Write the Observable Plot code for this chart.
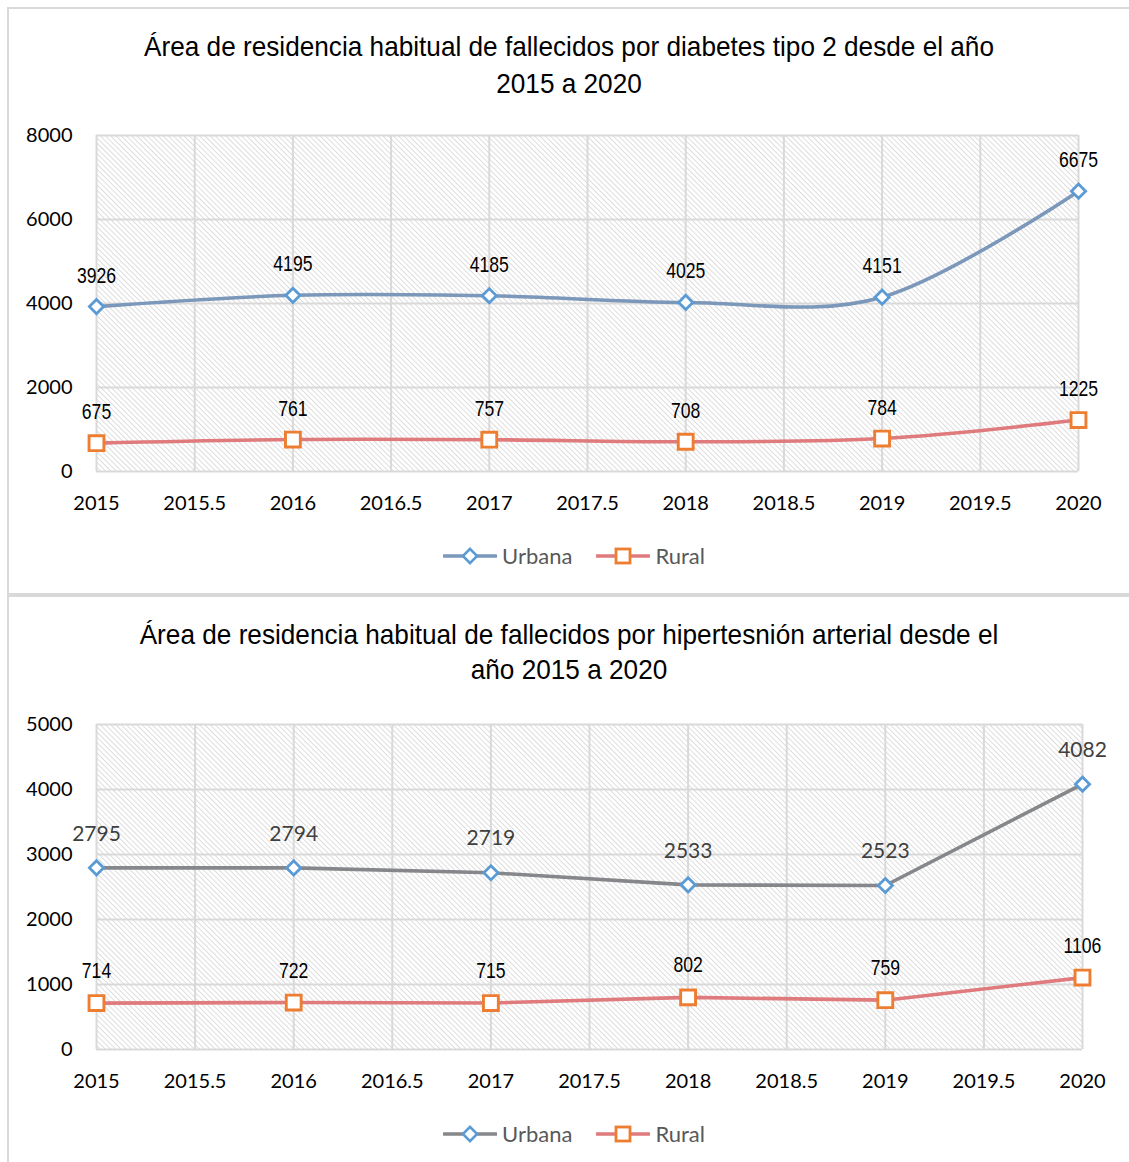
<!DOCTYPE html>
<html lang="es">
<head>
<meta charset="utf-8">
<script src="https://cdn.jsdelivr.net/npm/d3@7"></script>
<script src="https://cdn.jsdelivr.net/npm/@observablehq/plot@0.6"></script>
<style>
  html, body { margin: 0; padding: 0; background: #fff; }
  body { position: relative; width: 1129px; height: 1162px; overflow: hidden; }
  .panel { position: absolute; left: 7px; width: 1140px; border: 2px solid #d9d9d9; box-sizing: border-box; }
  .title { position: absolute; left: 8px; width: 1122px; text-align: center;
           font-family: "Liberation Sans Narrow", "Arial Narrow", "Liberation Sans", sans-serif; font-size: 28px; color: #000;
           transform: scaleX(0.935); transform-origin: 561px 0; }
  .chart { position: absolute; left: 0; }
  .legend { position: absolute; left: 0; width: 1148px; display: flex; justify-content: center; align-items: center;
            font-family: Lato, "Open Sans", sans-serif; font-size: 22px; color: #595959; }
  .legend .item { display: flex; align-items: center; margin: 0 12px; }
  .legend svg { margin-right: 5px; }
</style>
</head>
<body>
<div class="panel" style="top:7px;height:588px"></div>
<div class="panel" style="top:595px;height:600px"></div>

<div class="title" style="top:28px;line-height:37px">Área de residencia habitual de fallecidos por diabetes tipo 2 desde el año<br>2015 a 2020</div>
<div class="chart" id="chart1" style="top:120px"></div>
<div class="legend" id="legend1" style="top:542px"></div>

<div class="title" style="top:617px;line-height:35px">Área de residencia habitual de fallecidos por hipertesnión arterial desde el<br>año 2015 a 2020</div>
<div class="chart" id="chart2" style="top:709px"></div>
<div class="legend" id="legend2" style="top:1120px"></div>

<script>
// Años y defunciones por área de residencia
const years = [2015, 2016, 2017, 2018, 2019, 2020];
const diabetesUrbana = [3926, 4195, 4185, 4025, 4151, 6675];
const diabetesRural = [675, 761, 757, 708, 784, 1225];
const hipertensionUrbana = [2795, 2794, 2719, 2533, 2523, 4082];
const hipertensionRural = [714, 722, 715, 802, 759, 1106];

// Marcas de los ejes
const xTicks = [2015, 2015.5, 2016, 2016.5, 2017, 2017.5, 2018, 2018.5, 2019, 2019.5, 2020];
const yTicksDiabetes = [0, 2000, 4000, 6000, 8000];
const yTicksHipertension = [0, 1000, 2000, 3000, 4000, 5000];

const NARROW = '"Liberation Sans Narrow", "Arial Narrow", "Liberation Sans", sans-serif';
const SANS = 'Lato, "Open Sans", sans-serif';
const BLUE_MARK = "#5b9bd5";
const ORANGE_MARK = "#ed7d31";
const RURAL_LINE = "#df7a7d";
const GRID = "#d9d9d9";

const rows = (vals) => years.map((year, i) => ({year, value: vals[i]}));

// squeeze the data labels horizontally to get a condensed face
function condense(svg, factor) {
  svg.querySelectorAll('g[font-family*="Narrow"] text').forEach(t => {
    const tr = t.getAttribute("transform");
    if (tr) {
      t.setAttribute("transform", `${tr} scale(${factor},1)`);
    } else {
      const x = +t.getAttribute("x") || 0, y = +t.getAttribute("y") || 0;
      t.setAttribute("x", 0); t.setAttribute("y", 0);
      t.setAttribute("transform", `translate(${x},${y}) scale(${factor},1)`);
    }
  });
}

function drawChart({id, urbana, rural, yMax, yTicks, curve, urbanLine, marginRight, height,
                    urbanLabel, ruralLabel}) {
  const urb = rows(urbana);
  const rur = rows(rural);
  const pid = id + "-hatch";
  const svg = Plot.plot({
    width: 1129,
    height,
    marginTop: 15,
    marginBottom: height - 15 - (yMax === 8000 ? 336 : 325),
    marginLeft: 96,
    marginRight,
    style: {fontFamily: SANS, fontSize: "20px", color: "#000", background: "transparent", overflow: "visible"},
    x: {domain: [2015, 2020], ticks: xTicks, tickFormat: d => String(d), tickSize: 0, tickPadding: 24, label: null},
    y: {domain: [0, yMax], ticks: yTicks, tickFormat: d => String(d), tickSize: 0, tickPadding: 24, label: null},
    marks: [
      Plot.frame({fill: `url(#${pid})`, stroke: "none"}),
      Plot.ruleX(xTicks, {stroke: GRID, strokeWidth: 2}),
      Plot.ruleY(yTicks, {stroke: GRID, strokeWidth: 2}),
      Plot.line(urb, {x: "year", y: "value", stroke: urbanLine, strokeWidth: 3.6, curve}),
      Plot.line(rur, {x: "year", y: "value", stroke: RURAL_LINE, strokeWidth: 3.6, curve}),
      Plot.dot(urb, {x: "year", y: "value", symbol: "diamond2", r: 6.4, fill: "white", stroke: BLUE_MARK, strokeWidth: 2.8}),
      Plot.dot(rur, {x: "year", y: "value", symbol: "square", r: 8.4, fill: "white", stroke: ORANGE_MARK, strokeWidth: 2.9}),
      Plot.text(urb, {x: "year", y: "value", text: d => String(d.value), dy: urbanLabel.dy,
                      fontFamily: urbanLabel.font, fontSize: urbanLabel.size, fill: urbanLabel.color}),
      Plot.text(rur, {x: "year", y: "value", text: d => String(d.value), dy: ruralLabel.dy,
                      fontFamily: ruralLabel.font, fontSize: ruralLabel.size, fill: ruralLabel.color})
    ]
  });
  // diagonal hatch behind the plot area
  d3.select(svg).insert("defs", ":first-child").html(
    `<pattern id="${pid}" patternUnits="userSpaceOnUse" width="3.7" height="3.7" patternTransform="rotate(-45)">
       <line x1="0" y1="0" x2="0" y2="3.7" stroke="#cccccc" stroke-width="1.3"/>
     </pattern>`);
  condense(svg, 0.8);
  document.getElementById(id).appendChild(svg);
}

function drawLegend(id, urbanLine) {
  const items = [
    {name: "Urbana", line: urbanLine, mark: `<rect x="22" y="5" width="10" height="10" transform="rotate(45 27 10)" fill="white" stroke="${BLUE_MARK}" stroke-width="2.6"/>`},
    {name: "Rural", line: RURAL_LINE, mark: `<rect x="20" y="3" width="14" height="14" fill="white" stroke="${ORANGE_MARK}" stroke-width="2.8"/>`}
  ];
  const el = document.getElementById(id);
  el.innerHTML = items.map(it =>
    `<div class="item"><svg width="54" height="20"><line x1="1" y1="10" x2="53" y2="10" stroke="${it.line}" stroke-width="3.6" stroke-linecap="round"/>${it.mark}</svg><span>${it.name}</span></div>`
  ).join("");
}

drawChart({
  id: "chart1", urbana: diabetesUrbana, rural: diabetesRural, yMax: 8000, yTicks: yTicksDiabetes,
  curve: "cardinal", urbanLine: "#7b97ba", marginRight: 51, height: 401,
  urbanLabel: {dy: -31, font: NARROW, size: 22, color: "#000"},
  ruralLabel: {dy: -31, font: NARROW, size: 22, color: "#000"}
});
drawLegend("legend1", "#7b97ba");

drawChart({
  id: "chart2", urbana: hipertensionUrbana, rural: hipertensionRural, yMax: 5000, yTicks: yTicksHipertension,
  curve: "linear", urbanLine: "#85878b", marginRight: 47, height: 390,
  urbanLabel: {dy: -34, font: SANS, size: 21, color: "#404040"},
  ruralLabel: {dy: -32, font: NARROW, size: 22, color: "#000"}
});
drawLegend("legend2", "#85878b");
</script>
</body>
</html>
